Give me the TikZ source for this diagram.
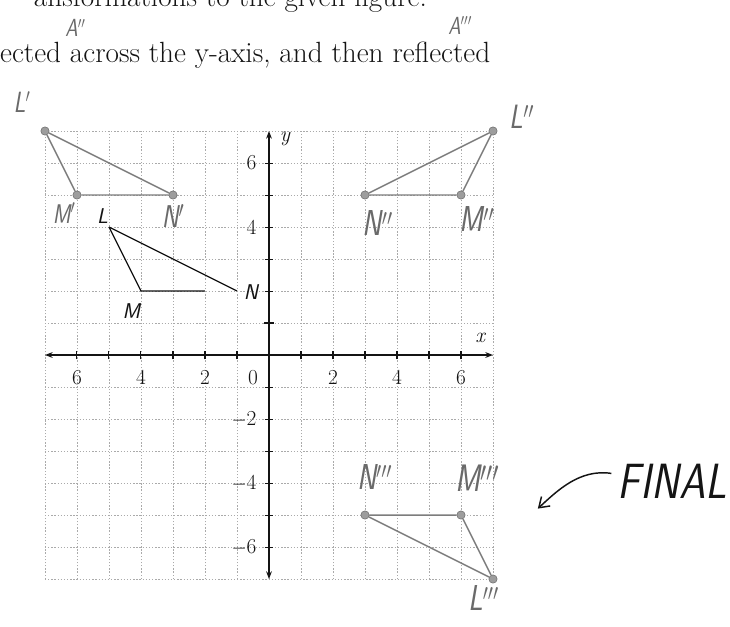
\documentclass[tikz,border=0pt]{standalone}
\usetikzlibrary{arrows.meta,positioning,calc}
\definecolor{pencil}{RGB}{125,125,125}
\definecolor{gridgray}{RGB}{170,170,170}
\definecolor{ink}{RGB}{20,20,20}
\newcommand{\hw}[1]{\scalebox{0.8}[1]{#1}}
\tikzset{
  >={Stealth[length=2.4mm]},
  gridline/.style={draw=gridgray,line width=0.5pt,dash pattern=on 1.2pt off 1.6pt},
  axisline/.style={<->,line width=1.1pt,draw=ink},
  tickmark/.style={line width=0.9pt,draw=ink},
  ticklbl/.style={font=\fontsize{19}{20}\selectfont,inner sep=1pt,text=ink},
  printed/.style={font=\fontsize{26}{30}\selectfont,inner sep=0pt,text=ink},
  orig/.style={draw=ink,line width=1.1pt},
  image/.style={draw=pencil,line width=1.3pt},
  vdot/.style={circle,fill=pencil!75,draw=pencil!80!black,inner sep=0pt,minimum size=2.6mm},
  vlbl/.style={font=\fontsize{19}{20}\sffamily\itshape\selectfont,text=ink,inner sep=1pt},
  hand/.style={font=\fontsize{#1}{#1}\sffamily\itshape\selectfont,text=pencil!85!black,inner sep=1pt},
  hand/.default=32,
}
\begin{document}
\begin{tikzpicture}
        \fill[white] (-8.406,-8.469) rectangle (14.406,11.094);
        \useasboundingbox (-8.406,-8.469) rectangle (14.406,11.094);
        % text of the worksheet
        \node[printed,anchor=base west] (line2) at (-8.406,9.13) {ected across the y-axis, and then reflected};
        \node[printed,anchor=base east] (line1) at (4.94,10.9) {ansformations to the given figure.};
        % grid and axes
        \foreach \i in {-7,...,7}{
          \draw[gridline] (\i,-7) -- (\i,7);
          \draw[gridline] (-7,\i) -- (7,\i);
        }
        \draw[axisline] (-7,0) -- (7,0);
        \draw[axisline] (0,-7) -- (0,7);
        \foreach \t in {-6,...,6}{
          \draw[tickmark] (\t,-0.14) -- (\t,0.14);
          \draw[tickmark] (-0.14,\t) -- (0.14,\t);
        }
        \draw[ink,line width=2.4pt] (-0.15,1) -- (0.15,1);
        \foreach \x/\l in {-6/6,-4/4,-2/2,-0.5/0,2/2,4/4,6/6}
          \node[ticklbl] at (\x,-0.7) {\l};
        \foreach \y/\l in {6/6,4/4,-2/$-$2,-4/$-$4,-6/$-$6}
          \node[ticklbl,anchor=east] at (-0.35,\y) {\l};
        \node[ticklbl,font=\fontsize{19}{20}\itshape\selectfont] (xlab) at (6.6,0.55) {x};
        \node[ticklbl,font=\fontsize{19}{20}\itshape\selectfont] (ylab) at (0.5,6.75) {y};
        % triangle LMN
        \coordinate (L) at (-5,4);
        \coordinate (M) at (-4,2);
        \coordinate (N) at (-1,2);
        \coordinate (Mstop) at (-2,2);
        \draw[orig] (L) -- (N) (L) -- (M) -- (Mstop);
        \node[vlbl] (Lt) at (-5.2,4.35) {L};
        \node[vlbl] (Mt) at (-4.3,1.38) {M};
        \node[vlbl] (Nt) at (-0.56,1.97) {N};
        % images
        \node[vdot] (L1) at (-7,7) {};
        \node[vdot] (M1) at (-6,5) {};
        \node[vdot] (N1) at (-3,5) {};
        \node[vdot] (L2) at (7,7) {};
        \node[vdot] (M2) at (6,5) {};
        \node[vdot] (N2) at (3,5) {};
        \node[vdot] (L3) at (7,-7) {};
        \node[vdot] (M3) at (6,-5) {};
        \node[vdot] (N3) at (3,-5) {};
        \draw[image] (L1) -- (M1) -- (N1) -- (L1);
        \draw[image] (L2) -- (M2) -- (N2) -- (L2);
        \draw[image] (L3) -- (M3) -- (N3) -- (L3);
        % handwriting
        \node[hand=26] (L1t) at (-7.72,7.9) {\hw{L$'$}};
        \node[hand=24] (M1t) at (-6.4,4.44) {\hw{M$'$}};
        \node[hand=28] (N1t) at (-3.0,4.35) {\hw{N$'$}};
        \node[hand] (N2t) at (3.4,4.12) {\hw{N$''$}};
        \node[hand] (M2t) at (6.5,4.25) {\hw{M$''$}};
        \node[hand=30] (L2t) at (7.9,7.44) {\hw{L$''$}};
        \node[hand] (N3t) at (3.3,-3.8) {\hw{N$'''$}};
        \node[hand=34] (M3t) at (6.5,-3.85) {\hw{M$'''$}};
        \node[hand] (L3t) at (6.7,-7.6) {\hw{L$'''$}};
        \node[hand=22] (A2t) at (-6.05,10.22) {\hw{A$''$}};
        \node[hand=22] (A3t) at (5.97,10.3) {\hw{A$'''$}};
        \node[hand=44,text=ink] (final) at (12.6,-3.95) {\scalebox{0.85}[1]{FINAL}};
        \coordinate (ftail) at (10.7,-3.7);
        \coordinate (ftip) at (8.4,-4.8);
        \draw[ink,line width=1.3pt,-{Straight Barb[length=3mm,width=4mm]}] (ftail) .. controls (9.7,-3.55) and (9.0,-4.25) .. (ftip);
      \end{tikzpicture}
\end{document}
